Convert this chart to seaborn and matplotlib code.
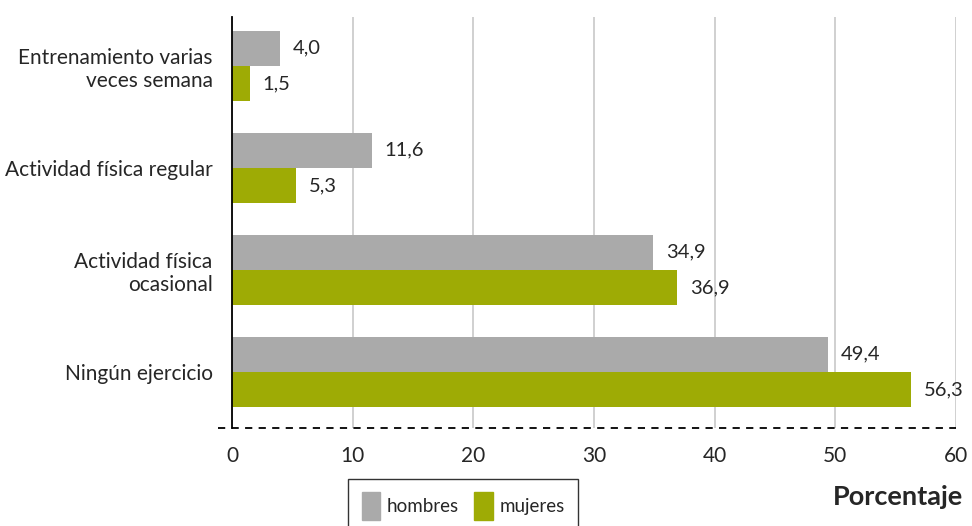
import matplotlib
matplotlib.use("Agg")
import matplotlib.pyplot as plt
import seaborn as sns
import pandas as pd

categorias = ["Entrenamiento varias\nveces semana", "Actividad física regular",
              "Actividad física\nocasional", "Ningún ejercicio"]
hombres = [4.0, 11.6, 34.9, 49.4]
mujeres = [1.5, 5.3, 36.9, 56.3]
series = ["hombres", "mujeres"]
colores = ["#aaaaaa", "#9eab05"]
xticks = [0, 10, 20, 30, 40, 50, 60]

df = pd.DataFrame({
    "categoria": categorias * 2,
    "valor": hombres + mujeres,
    "sexo": [series[0]] * 4 + [series[1]] * 4,
})

sns.set_theme(style="white")
plt.rcParams["font.family"] = ["Lato", "DejaVu Sans"]

fig = plt.figure(figsize=(9.72, 5.26), dpi=100)
ax = fig.add_axes([232/972, 1-428/526, (956-232)/972, (428-17)/526])

sns.barplot(data=df, y="categoria", x="valor", hue="sexo", orient="h",
            palette=colores, width=0.69, ax=ax, legend=True, saturation=1,
            linewidth=0, edgecolor="none")

ax.set_xlim(0, 60)
ax.set_ylim(3.55, -0.48)
ax.set_xticks(xticks)
ax.set_xticklabels([str(t) for t in xticks], fontsize=15)
ax.tick_params(axis="x", length=6, width=1, color="#c8c8c8", pad=7)
ax.tick_params(axis="y", length=0, pad=14, labelsize=15)
for lbl in ax.get_yticklabels():
    lbl.set_horizontalalignment("right")
    lbl.set_multialignment("right")
ax.set_xlabel("")
ax.set_ylabel("")
ax.grid(axis="x", color="#c8c8c8", linewidth=1.2)
ax.set_axisbelow(True)

for s in ["top", "right", "bottom"]:
    ax.spines[s].set_visible(False)
ax.spines["left"].set_color("black")
ax.spines["left"].set_linewidth(1.3)
ax.plot([-0.02, 1.0], [0, 0], transform=ax.transAxes, color="black",
        linewidth=1.3, linestyle=(0, (4, 3.5)), clip_on=False, zorder=5)

for cont in ax.containers:
    ax.bar_label(cont, labels=[f"{v:.1f}".replace(".", ",") for v in cont.datavalues],
                 padding=9, fontsize=14.5)

leg = ax.get_legend()
if leg is not None:
    leg.remove()
handles = [plt.Rectangle((0, 0), 1, 1, color=c) for c in colores]
lg = fig.legend(handles, series, loc="upper center", bbox_to_anchor=(463/972, 1-479/526),
                ncol=2, frameon=True, fontsize=13.5, handlelength=1.0, handleheight=1.9,
                edgecolor="black", fancybox=False, borderpad=0.7, columnspacing=0.8,
                handletextpad=0.35, borderaxespad=0)
lg.get_frame().set_linewidth(1.0)

fig.text(963/972, 1-497/526, "Porcentaje", ha="right", va="center",
         fontsize=19.5, fontweight="bold")

fig.savefig("out.png", dpi=100)
